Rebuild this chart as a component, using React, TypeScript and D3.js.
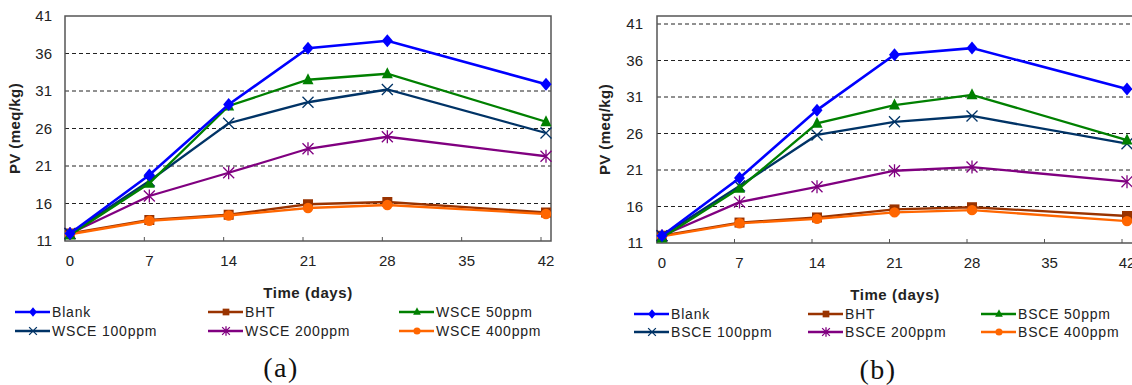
import React from "react";
import * as d3 from "d3";

const days = [0, 7, 14, 21, 28, 42];
const xTicks = [0, 7, 14, 21, 28, 35, 42];
const yTicks = [11, 16, 21, 26, 31, 36, 41];

const seriesKeys = ["blank", "bht", "s50", "s100", "s200", "s400"];
const colors: Record<string, string> = {
  blank: "#0000FF",
  bht: "#993300",
  s50: "#008000",
  s100: "#003366",
  s200: "#800080",
  s400: "#FF6600",
};
const markers: Record<string, string> = {
  blank: "diamond",
  bht: "square",
  s50: "triangle",
  s100: "x",
  s200: "star",
  s400: "circle",
};

// Panel (a) WSCE
const aBlank = [12.0, 19.8, 29.2, 36.7, 37.7, 31.9];
const aBHT = [12.0, 13.8, 14.5, 15.9, 16.2, 14.8];
const a50 = [11.8, 18.7, 29.0, 32.5, 33.3, 26.9];
const a100 = [12.0, 19.0, 26.7, 29.5, 31.2, 25.4];
const a200 = [12.0, 17.0, 20.1, 23.3, 24.9, 22.3];
const a400 = [11.9, 13.7, 14.4, 15.4, 15.8, 14.6];
const aLabels = ["Blank", "BHT", "WSCE 50ppm", "WSCE 100ppm", "WSCE 200ppm", "WSCE 400ppm"];

// Panel (b) BSCE
const bBlank = [12.0, 19.9, 29.2, 36.8, 37.7, 32.1];
const bBHT = [12.0, 13.8, 14.5, 15.6, 15.9, 14.7];
const b50 = [11.7, 18.5, 27.4, 29.9, 31.3, 25.1];
const b100 = [12.0, 18.8, 25.8, 27.6, 28.4, 24.6];
const b200 = [12.0, 16.6, 18.7, 20.9, 21.4, 19.4];
const b400 = [11.9, 13.7, 14.3, 15.2, 15.5, 14.0];
const bLabels = ["Blank", "BHT", "BSCE 50ppm", "BSCE 100ppm", "BSCE 200ppm", "BSCE 400ppm"];

const FONT = "'Liberation Sans', Arial, sans-serif";

function Marker({ type, x, y, color, s = 1 }: { type: string; x: number; y: number; color: string; s?: number }) {
  const r = 5.5 * s;
  switch (type) {
    case "diamond":
      return <path d={`M${x},${y - r - 1}L${x + r},${y}L${x},${y + r + 1}L${x - r},${y}Z`} fill={color} />;
    case "square":
      return <rect x={x - r + 0.5} y={y - r + 0.5} width={2 * r - 1} height={2 * r - 1} fill={color} />;
    case "triangle":
      return <path d={`M${x},${y - r - 1}L${x + r},${y + r - 1}L${x - r},${y + r - 1}Z`} fill={color} />;
    case "x":
      return (
        <path
          d={`M${x - r},${y - r}L${x + r},${y + r}M${x - r},${y + r}L${x + r},${y - r}`}
          stroke={color}
          strokeWidth={1.3}
          fill="none"
        />
      );
    case "star":
      return (
        <path
          d={`M${x - r},${y - r}L${x + r},${y + r}M${x - r},${y + r}L${x + r},${y - r}M${x},${y - r - 1}L${x},${y + r + 1}`}
          stroke={color}
          strokeWidth={1.3}
          fill="none"
        />
      );
    case "circle":
      return <circle cx={x} cy={y} r={r - 0.3} fill={color} />;
    default:
      return null;
  }
}

type PanelProps = {
  data: number[][];
  labels: string[];
  frameLeft: number;
  frameRight: number;
  frameTop: number;
  frameBottom: number;
  x0: number;
  x42: number;
  yTop41: number;
  gridVals: number[];
  yLabelEnd: number;
  yTitleX: number;
  xTitleX: number;
  xTitleY: number;
  legendCols: number[];
  legendRows: number[];
  caption: string;
  captionX: number;
  captionY: number;
};

function Panel(p: PanelProps) {
  const x = d3.scaleLinear().domain([0, 42]).range([p.x0, p.x42]);
  const y = d3.scaleLinear().domain([11, 41]).range([p.frameBottom, p.yTop41]);
  const line = d3
    .line<number>()
    .x((_, i) => x(days[i]))
    .y((d) => y(d));
  const order = [1, 5, 4, 3, 2, 0];
  return (
    <g>
      {p.gridVals.map((v) => (
        <line
          key={v}
          x1={p.frameLeft}
          x2={p.frameRight}
          y1={y(v)}
          y2={y(v)}
          stroke="#222"
          strokeWidth={1}
          strokeDasharray="4,3"
        />
      ))}
      <rect
        x={p.frameLeft}
        y={p.frameTop}
        width={p.frameRight - p.frameLeft}
        height={p.frameBottom - p.frameTop}
        fill="none"
        stroke="#555"
        strokeWidth={1.5}
      />
      {xTicks.map((v) => (
        <line key={v} x1={x(v) - 5} x2={x(v) - 5} y1={p.frameBottom} y2={p.frameBottom - 4} stroke="#555" strokeWidth={1} />
      ))}
      {yTicks.map((v) => (
        <text
          key={v}
          x={p.yLabelEnd}
          y={y(v)}
          dy="0.35em"
          textAnchor="end"
          fontFamily={FONT}
          fontSize={15}
          fill="#222"
        >
          {v}
        </text>
      ))}
      {xTicks.map((v) => (
        <text key={v} x={x(v)} y={p.frameBottom + 25} textAnchor="middle" fontFamily={FONT} fontSize={15} fill="#222">
          {v}
        </text>
      ))}
      <text
        transform={`translate(${p.yTitleX},${(p.frameTop + p.frameBottom) / 2}) rotate(-90)`}
        textAnchor="middle"
        dy="0.35em"
        fontFamily={FONT}
        fontSize={15}
        fontWeight="bold"
        letterSpacing={0.4}
        fill="#222"
      >
        PV (meq/kg)
      </text>
      <text
        x={p.xTitleX}
        y={p.xTitleY}
        dy="0.35em"
        textAnchor="middle"
        fontFamily={FONT}
        fontSize={15}
        fontWeight="bold"
        letterSpacing={0.6}
        fill="#222"
      >
        Time (days)
      </text>
      {order.map((si) => {
        const key = seriesKeys[si];
        return (
          <g key={key}>
            <path
              d={line(p.data[si]) || ""}
              fill="none"
              stroke={colors[key]}
              strokeWidth={key === "blank" ? 2.6 : 2.3}
            />
            {p.data[si].map((v, i) => (
              <Marker key={i} type={markers[key]} x={x(days[i])} y={y(v)} color={colors[key]} />
            ))}
          </g>
        );
      })}
      {seriesKeys.map((key, i) => {
        const cx = p.legendCols[i % 3];
        const cy = p.legendRows[Math.floor(i / 3)];
        return (
          <g key={key}>
            <line x1={cx - 37} x2={cx - 2} y1={cy} y2={cy} stroke={colors[key]} strokeWidth={2.5} />
            <Marker type={markers[key]} x={cx - 19} y={cy} color={colors[key]} s={0.7} />
            <text x={cx} y={cy} dy="0.36em" fontFamily={FONT} fontSize={14} letterSpacing={0.8} fill="#222">
              {p.labels[i]}
            </text>
          </g>
        );
      })}
      <text
        x={p.captionX}
        y={p.captionY}
        dy="0.35em"
        textAnchor="middle"
        fontFamily="'Liberation Serif', 'Times New Roman', serif"
        fontSize={28}
        letterSpacing={1.5}
        fill="#111"
      >
        {p.caption}
      </text>
    </g>
  );
}

export default function App() {
  return (
    <svg
      width={1132}
      height={385}
      style={{ position: "absolute", left: 0, top: 0, background: "#fff" }}
    >
      <rect width={1132} height={385} fill="#fff" />
      <Panel
        data={[aBlank, aBHT, a50, a100, a200, a400]}
        labels={aLabels}
        frameLeft={65}
        frameRight={551}
        frameTop={16}
        frameBottom={241}
        x0={70}
        x42={546}
        yTop41={16}
        gridVals={[16, 21, 26, 31, 36]}
        yLabelEnd={52}
        yTitleX={15}
        xTitleX={308}
        xTitleY={293}
        legendCols={[52, 245, 436]}
        legendRows={[312, 331]}
        caption="(a)"
        captionX={281}
        captionY={367}
      />
      <Panel
        data={[bBlank, bBHT, b50, b100, b200, b400]}
        labels={bLabels}
        frameLeft={657}
        frameRight={1140}
        frameTop={16}
        frameBottom={243}
        x0={662}
        x42={1127}
        yTop41={24}
        gridVals={[16, 21, 26, 31, 36, 41]}
        yLabelEnd={643}
        yTitleX={605}
        xTitleX={895}
        xTitleY={295}
        legendCols={[671, 845, 1018]}
        legendRows={[314, 332]}
        caption="(b)"
        captionX={878}
        captionY={369}
      />
    </svg>
  );
}
